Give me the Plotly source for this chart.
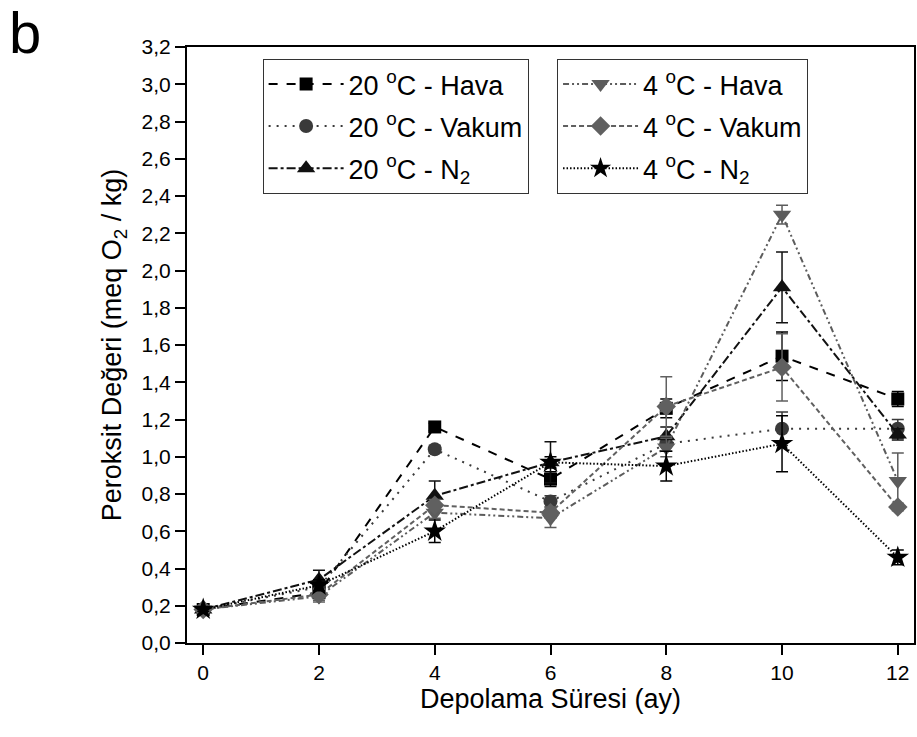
import plotly.graph_objects as go

# Storage time (months)
months = [0, 2, 4, 6, 8, 10, 12]

# Peroxide values (meq O2 / kg) and standard deviations per storage condition
hava_20 = [0.18, 0.27, 1.16, 0.88, 1.26, 1.54, 1.31]
hava_20_sd = [0.01, 0.02, 0.02, 0.04, 0.05, 0.13, 0.04]
vakum_20 = [0.18, 0.30, 1.04, 0.76, 1.07, 1.15, 1.15]
vakum_20_sd = [0.01, 0.02, 0.02, 0.03, 0.04, 0.09, 0.05]
n2_20 = [0.18, 0.34, 0.79, 0.97, 1.11, 1.91, 1.12]
n2_20_sd = [0.01, 0.05, 0.08, 0.11, 0.05, 0.19, 0.03]
hava_4 = [0.18, 0.25, 0.70, 0.67, 1.05, 2.30, 0.87]
hava_4_sd = [0.01, 0.03, 0.03, 0.05, 0.05, 0.05, 0.15]
vakum_4 = [0.18, 0.26, 0.74, 0.70, 1.27, 1.48, 0.73]
vakum_4_sd = [0.01, 0.03, 0.03, 0.03, 0.16, 0.18, 0.02]
n2_4 = [0.18, 0.31, 0.60, 0.97, 0.95, 1.07, 0.46]
n2_4_sd = [0.01, 0.03, 0.06, 0.03, 0.08, 0.15, 0.04]

series = [
    ("20 <sup>o</sup>C - Hava", hava_20, hava_20_sd, "#000000", "square", 13, "dash", "legend"),
    ("20 <sup>o</sup>C - Vakum", vakum_20, vakum_20_sd, "#3a3a3a", "circle", 14, "2px,6px", "legend"),
    ("20 <sup>o</sup>C - N<sub>2</sub>", n2_20, n2_20_sd, "#111111", "triangle-up", 16, "dashdot", "legend"),
    ("4 <sup>o</sup>C - Hava", hava_4, hava_4_sd, "#5c5c5c", "triangle-down", 16, "6px,3px,2px,3px,2px,3px", "legend2"),
    ("4 <sup>o</sup>C - Vakum", vakum_4, vakum_4_sd, "#606060", "diamond", 15, "5px,3px", "legend2"),
    ("4 <sup>o</sup>C - N<sub>2</sub>", n2_4, n2_4_sd, "#000000", "star", 17, "1.5px,2px", "legend2"),
]

FONT = "Liberation Sans, Arial, sans-serif"

fig = go.Figure()
for i, (name, y, sd, color, sym, size, dash, leg) in enumerate(series):
    fig.add_trace(go.Scatter(
        x=months, y=y, name=name, mode="lines+markers",
        legend=leg, legendgroup="g%d" % i,
        line=dict(color=color, width=2, dash=dash),
        marker=dict(symbol=sym, size=size, color=color, line=dict(width=0)),
        error_y=dict(type="data", array=sd, visible=True, color=color,
                     thickness=1.5, width=6),
    ))

legend_style = dict(
    bgcolor="white", bordercolor="#333333", borderwidth=1,
    font=dict(family=FONT, size=27, color="black"),
    itemwidth=75, tracegroupgap=4, traceorder="grouped",
    xanchor="left", yanchor="top", y=0.98,
)

fig.update_layout(
    width=917, height=737,
    margin=dict(l=187, r=1, t=47, b=94),
    paper_bgcolor="white", plot_bgcolor="white",
    separators=",.",
    font=dict(family=FONT, color="black"),
    legend=dict(x=0.104, **legend_style),
    legend2=dict(x=0.509, **legend_style),
    xaxis=dict(
        range=[-0.28, 12.28], tickvals=months, ticktext=[str(m) for m in months],
        showline=True, linecolor="black", linewidth=2, mirror=True,
        ticks="outside", ticklen=10, tickwidth=2, tickcolor="black",
        showgrid=False, zeroline=False,
        tickfont=dict(size=21, family=FONT),
        title=dict(text="Depolama Süresi (ay)", font=dict(size=27, family=FONT), standoff=2),
    ),
    yaxis=dict(
        range=[0, 3.2], dtick=0.2, tick0=0, tickformat=".1f",
        showline=True, linecolor="black", linewidth=2, mirror=True,
        ticks="outside", ticklen=10, tickwidth=2, tickcolor="black",
        showgrid=False, zeroline=False,
        tickfont=dict(size=21, family=FONT),
        title=dict(text="Peroksit Değeri (meq O<sub>2</sub> / kg)",
                   font=dict(size=27, family=FONT), standoff=12),
    ),
    annotations=[dict(
        text="b", xref="paper", yref="paper", x=-0.247, y=1.082,
        xanchor="left", yanchor="top", showarrow=False,
        font=dict(size=58, family=FONT, color="black"),
    )],
)

fig.write_html("out.html")
